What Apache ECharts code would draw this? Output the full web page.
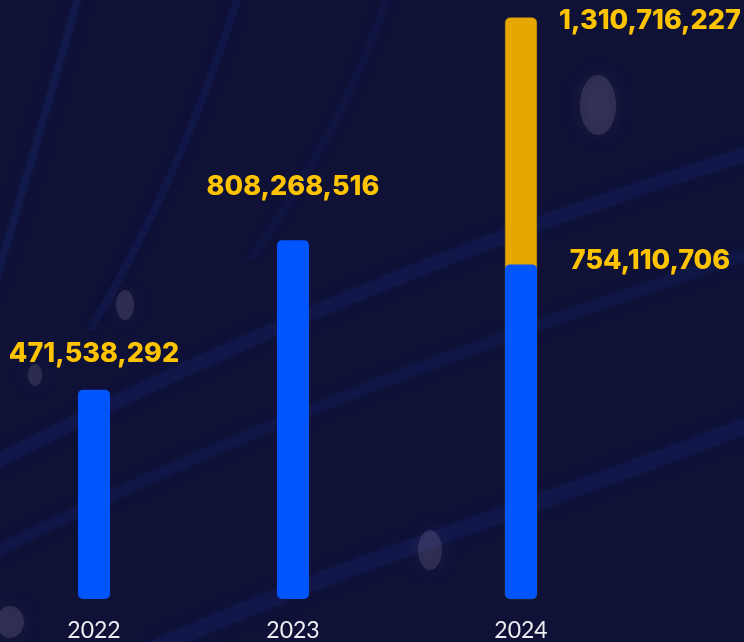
<!DOCTYPE html>
<html>
<head>
<meta charset="utf-8">
<script src="https://cdn.jsdelivr.net/npm/echarts@6/dist/echarts.min.js"></script>
<style>
  html, body { margin: 0; padding: 0; background: #0f1137; }
  #barChart { width: 744px; height: 642px; }
</style>
</head>
<body>
<div id="barChart"></div>
<script>
  // data
  var years = ['2022', '2023', '2024'];
  var mainValues = [471538292, 808268516, 754110706];
  var totalValues = [null, null, 1310716227];

  // layout
  var barCenters = [94, 293, 521];
  var labelDistances = [22, 40, 0];
  var yMax = 1350000000;

  var fmt = function (v) { return Number(v).toLocaleString('en-US'); };

  var labelFont = {
    color: '#ffc400',
    fontFamily: 'Inter',
    fontWeight: 800,
    fontSize: 27
  };

  var grids = [], xAxes = [], yAxes = [], seriesList = [];
  for (var i = 0; i < years.length; i++) {
    grids.push({ left: barCenters[i] - 50, width: 100, top: 0, bottom: 42 });
    xAxes.push({
      type: 'category',
      gridIndex: i,
      data: [years[i]],
      axisLine: { show: false },
      axisTick: { show: false },
      axisLabel: { color: '#eeeef4', fontFamily: 'Lato', fontSize: 23, margin: 20 }
    });
    yAxes.push({
      type: 'value',
      gridIndex: i,
      min: 0,
      max: yMax,
      show: false,
      splitLine: { show: false }
    });

    var sideLabel = totalValues[i] != null;
    if (sideLabel) {
      // total behind
      seriesList.push({
        type: 'bar',
        xAxisIndex: i,
        yAxisIndex: i,
        data: [totalValues[i]],
        barWidth: 32,
        z: 2,
        itemStyle: { color: '#e6a800', borderRadius: 5, borderColor: '#b88a10', borderWidth: 0.5 },
        label: makeLabel(true, 3)
      });
    }
    seriesList.push({
      type: 'bar',
      xAxisIndex: i,
      yAxisIndex: i,
      data: [mainValues[i]],
      barWidth: 32,
      barGap: '-100%',
      z: 3,
      itemStyle: { color: '#0055ff', borderRadius: 5 },
      label: makeLabel(sideLabel, -4, labelDistances[i])
    });
  }

  function makeLabel(side, dy, dist) {
    var l = Object.assign({ show: true, formatter: function (p) { return fmt(p.value); } }, labelFont);
    if (side) {
      l.position = ['100%', 0];
      l.offset = [113, dy];
      l.align = 'center';
      l.verticalAlign = 'middle';
    } else {
      l.position = 'top';
      l.distance = dist;
    }
    return l;
  }

  // decorative background streaks and glows
  var streaks = [
    { x1: -20, y1: 470, cx1: 250, cy1: 330, cx2: 500, cy2: 230, x2: 760, y2: 150, w: 14, o: 0.12 },
    { x1: -20, y1: 560, cx1: 250, cy1: 420, cx2: 520, cy2: 330, x2: 760, y2: 250, w: 12, o: 0.10 },
    { x1: 150, y1: 650, cx1: 350, cy1: 560, cx2: 560, cy2: 500, x2: 760, y2: 420, w: 16, o: 0.12 },
    { x1: 80, y1: -10, cx1: 50, cy1: 100, cx2: 20, cy2: 200, x2: -10, y2: 300, w: 8, o: 0.14 },
    { x1: 240, y1: -10, cx1: 200, cy1: 120, cx2: 150, cy2: 230, x2: 90, y2: 330, w: 8, o: 0.10 },
    { x1: 390, y1: -10, cx1: 360, cy1: 80, cx2: 320, cy2: 160, x2: 250, y2: 260, w: 8, o: 0.08 }
  ];
  var graphics = streaks.map(function (s) {
    return {
      type: 'bezierCurve',
      z: -10,
      silent: true,
      shape: { x1: s.x1, y1: s.y1, cpx1: s.cx1, cpy1: s.cy1, cpx2: s.cx2, cpy2: s.cy2, x2: s.x2, y2: s.y2 },
      style: { stroke: 'rgba(40,75,190,' + s.o + ')', lineWidth: s.w, fill: null, shadowBlur: 20, shadowColor: 'rgba(40,80,200,0.35)' }
    };
  });
  var glows = [[598, 105, 18, 30], [125, 305, 9, 15], [430, 550, 12, 20], [35, 375, 7, 11], [10, 622, 14, 16]];
  glows.forEach(function (g) {
    graphics.push({
      type: 'ellipse',
      z: -9,
      silent: true,
      shape: { cx: g[0], cy: g[1], rx: g[2], ry: g[3] },
      style: { fill: 'rgba(140,130,165,0.22)', shadowBlur: 22, shadowColor: 'rgba(150,140,170,0.5)' }
    });
  });

  var diagram = echarts.init(document.getElementById('barChart'));
  diagram.setOption({
    backgroundColor: '#0f1137',
    animation: false,
    graphic: graphics,
    grid: grids,
    xAxis: xAxes,
    yAxis: yAxes,
    series: seriesList
  });
</script>
</body>
</html>
